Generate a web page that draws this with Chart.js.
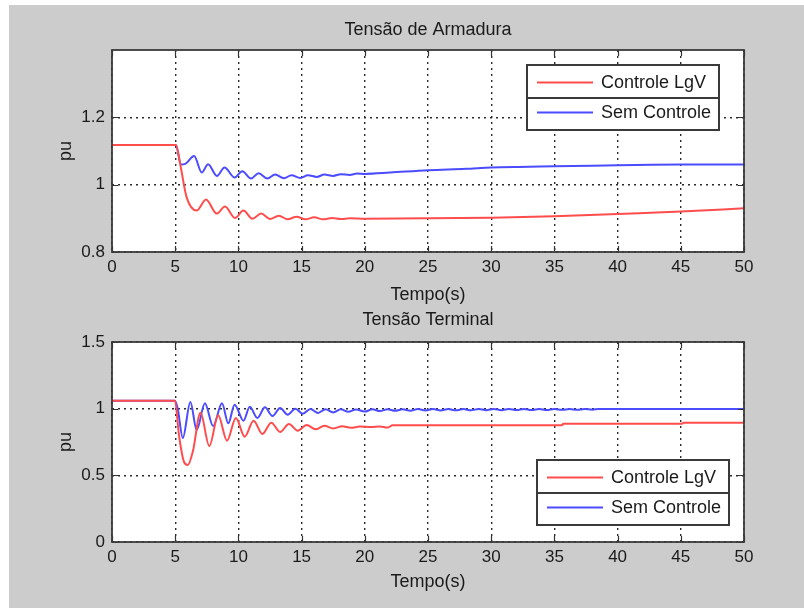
<!DOCTYPE html>
<html>
<head>
<meta charset="utf-8">
<script src="https://cdn.jsdelivr.net/npm/chart.js@4"></script>
<style>
  body { margin: 0; background: #fff; }
  #frame { position: absolute; left: 9px; top: 5px; width: 795px; height: 603px; background: #cccccc; }
  canvas { position: absolute; left: 0; }
  #c1 { top: 0; }
  #c2 { top: 310px; }
</style>
</head>
<body>
<div id="frame"></div>
<canvas id="c1" width="804" height="310"></canvas>
<canvas id="c2" width="804" height="298"></canvas>
<script>
// labels
const seriesNames = ["Controle LgV", "Sem Controle"];
const titleTop = "Tensão de Armadura";
const titleBottom = "Tensão Terminal";
const xLabel = "Tempo(s)";
const yLabel = "pu";

// ticks
const xTicks = [0, 5, 10, 15, 20, 25, 30, 35, 40, 45, 50];
const yTicksTop = [0.8, 1, 1.2];
const yTicksBottom = [0, 0.5, 1, 1.5];

// Tensão de Armadura - Controle LgV
const armRedT = [0, 5.06, 5.4, 5.9, 6.7, 7.44, 8.28, 8.94, 9.73, 10.4, 11.1, 11.8, 12.5, 13.2, 13.9, 14.6, 15.3, 16, 16.7, 17.4, 18.1, 18.8, 20, 25, 30, 35, 40, 45, 50];
const armRedV = [1.118, 1.118, 1.06, 0.963, 0.923, 0.956, 0.914, 0.935, 0.901, 0.923, 0.899, 0.914, 0.898, 0.908, 0.897, 0.905, 0.897, 0.903, 0.897, 0.901, 0.898, 0.900, 0.899, 0.900, 0.902, 0.906, 0.913, 0.920, 0.930];

// Tensão de Armadura - Sem Controle
const armBlueT = [0, 5.06, 5.45, 5.8, 6.5, 7.1, 7.6, 8.3, 8.9, 9.7, 10.3, 11.0, 11.6, 12.3, 12.9, 13.6, 14.2, 14.9, 15.5, 16.2, 16.8, 17.5, 18.1, 18.8, 19.4, 20, 22, 25, 28, 30, 33, 35, 38, 40, 45, 50];
const armBlueV = [1.118, 1.118, 1.06, 1.062, 1.085, 1.036, 1.061, 1.026, 1.051, 1.021, 1.040, 1.018, 1.034, 1.018, 1.030, 1.019, 1.028, 1.020, 1.028, 1.023, 1.030, 1.026, 1.031, 1.029, 1.033, 1.032, 1.036, 1.043, 1.047, 1.051, 1.053, 1.055, 1.056, 1.058, 1.060, 1.060];

// Tensão Terminal - Controle LgV
const termRedT = [0, 4.98, 5.3, 5.7, 6.0, 6.4, 7.0, 7.7, 8.4, 9.1, 9.8, 10.5, 11.2, 11.9, 12.6, 13.3, 14.0, 14.7, 15.4, 16.1, 16.8, 17.5, 18.2, 18.9, 19.6, 20.5, 21.2, 21.8, 22.2, 35.6, 35.7, 45.1, 45.2, 50];
const termRedV = [1.06, 1.06, 0.80, 0.60, 0.578, 0.68, 0.97, 0.72, 0.95, 0.76, 0.93, 0.79, 0.91, 0.81, 0.895, 0.825, 0.885, 0.835, 0.878, 0.845, 0.872, 0.852, 0.868, 0.856, 0.866, 0.862, 0.866, 0.858, 0.875, 0.875, 0.886, 0.886, 0.895, 0.895];

// Tensão Terminal - Sem Controle
const termBlueT = [0, 4.98, 5.2, 5.6, 6.2, 6.7, 7.35, 8.0, 8.7, 9.2, 9.7, 10.4, 10.9, 11.5, 12.1, 12.7, 13.3, 13.9, 14.5, 15.1, 15.7, 16.3, 16.9, 17.5, 18.1, 18.7, 19.3, 20.0, 20.6, 21.2, 21.8, 22.4, 23, 23.6, 24.2, 24.8, 25.4, 26, 26.6, 27.2, 27.8, 28.4, 29, 29.6, 30.2, 30.8, 31.4, 32, 32.6, 33.2, 33.8, 34.4, 35, 35.6, 36.2, 36.8, 37.4, 38, 38.5, 50];
const termBlueV = [1.06, 1.06, 1.0, 0.78, 1.05, 0.84, 1.04, 0.87, 1.04, 0.89, 1.03, 0.91, 1.015, 0.93, 1.01, 0.945, 1.005, 0.955, 1.0, 0.962, 0.998, 0.968, 0.996, 0.972, 0.995, 0.976, 0.994, 0.978, 0.995, 0.982, 0.996, 0.984, 0.996, 0.985, 0.997, 0.986, 0.997, 0.987, 0.997, 0.988, 0.997, 0.988, 0.998, 0.989, 0.998, 0.989, 0.998, 0.990, 0.998, 0.990, 0.998, 0.990, 0.998, 0.991, 0.998, 0.991, 0.998, 0.992, 0.998, 0.998];

const RED = "#ff4d4d";
const BLUE = "#4b4bff";
const FONT = "'Liberation Sans', Arial, sans-serif";
const TEXT = "#1a1a1a";

function toPoints(ts, vs) {
    return ts.map(function (t, i) { return { x: t, y: vs[i] }; });
}

function tickSetter(values) {
    return function (scale) {
        scale.ticks = values.map(function (v) { return { value: v }; });
    };
}

// matlab-ish axes box, inward ticks, title and boxed legend
const matlabAxes = {
    id: "matlabAxes",
    beforeDraw: function (chart) {
        const a = chart.chartArea;
        const ctx = chart.ctx;
        ctx.save();
        ctx.fillStyle = "#ffffff";
        ctx.fillRect(a.left, a.top, a.right - a.left, a.bottom - a.top);
        ctx.restore();
    },
    afterDraw: function (chart, args, opts) {
        const a = chart.chartArea;
        const ctx = chart.ctx;
        const xs = chart.scales.x;
        const ys = chart.scales.y;
        ctx.save();

        // inward tick marks
        ctx.strokeStyle = "#333";
        ctx.lineWidth = 1.2;
        ctx.beginPath();
        xs.ticks.forEach(function (t) {
            const px = Math.round(xs.getPixelForValue(t.value)) + 0.5;
            ctx.moveTo(px, a.bottom); ctx.lineTo(px, a.bottom - 6);
            ctx.moveTo(px, a.top); ctx.lineTo(px, a.top + 6);
        });
        ys.ticks.forEach(function (t) {
            const py = Math.round(ys.getPixelForValue(t.value)) + 0.5;
            ctx.moveTo(a.left, py); ctx.lineTo(a.left + 6, py);
            ctx.moveTo(a.right, py); ctx.lineTo(a.right - 6, py);
        });
        ctx.stroke();

        // box
        ctx.strokeStyle = "#3a3a3a";
        ctx.lineWidth = 1.8;
        ctx.strokeRect(a.left, a.top, a.right - a.left, a.bottom - a.top);

        // title
        ctx.fillStyle = TEXT;
        ctx.font = "18px " + FONT;
        ctx.textAlign = "center";
        ctx.textBaseline = "middle";
        ctx.fillText(opts.title, (a.left + a.right) / 2, a.top - opts.titleGap);

        // legend
        const w = 192, h = 65;
        const bx = a.right - opts.legendRight - w;
        const by = opts.legendTop === undefined ? a.bottom - opts.legendBottom - h : a.top + opts.legendTop;
        ctx.fillStyle = "#ffffff";
        ctx.fillRect(bx, by, w, h);
        ctx.strokeStyle = "#3a3a3a";
        ctx.lineWidth = 2;
        ctx.strokeRect(bx, by, w, h);
        ctx.beginPath();
        ctx.moveTo(bx, by + 33); ctx.lineTo(bx + w, by + 33);
        ctx.stroke();
        chart.data.datasets.forEach(function (ds, i) {
            const cy = by + 17.5 + i * 30;
            ctx.strokeStyle = ds.borderColor;
            ctx.lineWidth = 2.2;
            ctx.beginPath();
            ctx.moveTo(bx + 10, cy); ctx.lineTo(bx + 66, cy);
            ctx.stroke();
            ctx.fillStyle = TEXT;
            ctx.font = "18px " + FONT;
            ctx.textAlign = "left";
            ctx.textBaseline = "middle";
            ctx.fillText(ds.label, bx + 74, cy + 1);
        });
        ctx.restore();
    }
};

function makeConfig(redPts, bluePts, yMin, yMax, yTicks, plotTop, xAxisHeight, xTitlePad, pluginOpts) {
    return {
        type: "line",
        data: {
            datasets: [
                { label: seriesNames[0], data: redPts, borderColor: RED, borderWidth: 2, pointRadius: 0, cubicInterpolationMode: "monotone" },
                { label: seriesNames[1], data: bluePts, borderColor: BLUE, borderWidth: 2, pointRadius: 0, cubicInterpolationMode: "monotone" }
            ]
        },
        options: {
            responsive: false,
            animation: false,
            layout: { padding: { top: plotTop, right: 60, left: 0, bottom: 0 } },
            plugins: {
                legend: { display: false },
                tooltip: { enabled: false },
                matlabAxes: pluginOpts
            },
            scales: {
                x: {
                    type: "linear",
                    min: 0,
                    max: 50,
                    afterBuildTicks: tickSetter(xTicks),
                    afterFit: function (scale) { scale.height = xAxisHeight; },
                    grid: { color: "#2a2a2a", lineWidth: 1.4, drawTicks: false },
                    border: { display: false, dash: [2, 4] },
                    ticks: {
                        padding: 5,
                        maxRotation: 0,
                        color: TEXT,
                        font: { family: FONT, size: 17 },
                        callback: function (v) { return String(v); }
                    },
                    title: {
                        display: true,
                        text: xLabel,
                        color: TEXT,
                        font: { family: FONT, size: 18, lineHeight: 1 },
                        padding: { top: 0, bottom: xTitlePad }
                    }
                },
                y: {
                    min: yMin,
                    max: yMax,
                    afterBuildTicks: tickSetter(yTicks),
                    afterFit: function (scale) { scale.width = 112; },
                    grid: { color: "#2a2a2a", lineWidth: 1.4, drawTicks: false },
                    border: { display: false, dash: [2, 4] },
                    ticks: {
                        padding: 7,
                        color: TEXT,
                        font: { family: FONT, size: 17 },
                        callback: function (v) { return String(v); }
                    },
                    title: {
                        display: true,
                        text: yLabel,
                        color: TEXT,
                        font: { family: FONT, size: 18, lineHeight: 1 },
                        padding: { top: 57, bottom: 0 }
                    }
                }
            }
        },
        plugins: [matlabAxes]
    };
}

new Chart(document.getElementById("c1"), makeConfig(
    toPoints(armRedT, armRedV), toPoints(armBlueT, armBlueV),
    0.8, 1.4, yTicksTop, 50, 58, 6,
    { title: titleTop, titleGap: 20, legendRight: 25, legendTop: 15 }
));

new Chart(document.getElementById("c2"), makeConfig(
    toPoints(termRedT, termRedV), toPoints(termBlueT, termBlueV),
    0, 1.5, yTicksBottom, 32, 66, 17,
    { title: titleBottom, titleGap: 22, legendRight: 15, legendBottom: 17 }
));
</script>
</body>
</html>
